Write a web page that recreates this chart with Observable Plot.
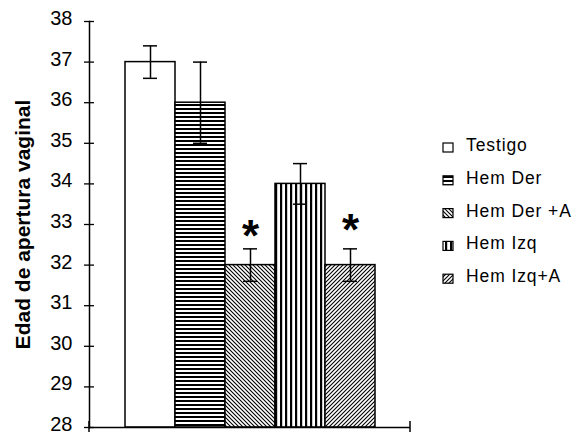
<!DOCTYPE html>
<html><head><meta charset="utf-8">
<script src="https://cdn.jsdelivr.net/npm/d3@7"></script>
<script src="https://cdn.jsdelivr.net/npm/@observablehq/plot@0.6"></script>
<style>
body{margin:0;background:#fff;}
#chart{position:relative;width:579px;height:432px;}
#chart svg{font-family:"Liberation Sans",Arial,sans-serif;}
g[aria-label="y-axis label"] text{font-weight:bold;}
</style></head><body><div id="chart"></div>
<script>
const groups = ["Testigo", "Hem Der", "Hem Der +A", "Hem Izq", "Hem Izq+A"];
const means = [37, 36, 32, 34, 32];
const errors = [0.4, 1.0, 0.4, 0.5, 0.4];
const signif = ["", "", "*", "", "*"];
const signifLevel = [null, null, 32.93, null, 33.1];
const yTicks = [28, 29, 30, 31, 32, 33, 34, 35, 36, 37, 38];
const yDomain = [28, 38];
const patternIds = ["pat-blank", "pat-h", "pat-bd", "pat-v", "pat-fd"];
const yLabel = "Edad de apertura vaginal";

const data = groups.map((g, i) => ({
  group: g, mean: means[i], lo: means[i] - errors[i], hi: means[i] + errors[i],
  mark: signif[i], markY: signifLevel[i], fill: `url(#${patternIds[i]})`
}));

const endTicks = (index, scales, values, dim) => {
  const g = d3.create("svg:g");
  const y0 = dim.height - dim.marginBottom;
  [dim.marginLeft, dim.width - dim.marginRight].forEach(x => {
    g.append("line").attr("x1", x).attr("x2", x).attr("y1", y0 - 6).attr("y2", y0 + 6)
      .attr("stroke", "#000").attr("stroke-width", 1.5);
  });
  return g.node();
};

const plot = Plot.plot({
  width: 579, height: 432,
  marginLeft: 89, marginRight: 169, marginTop: 21, marginBottom: 5,
  style: {fontFamily: "'Liberation Sans', Arial, sans-serif", fontSize: "20px", color: "#000", background: "transparent"},
  x: {domain: groups, paddingInner: 0, paddingOuter: 0.7, axis: null},
  y: {domain: yDomain},
  color: {type: "identity"},
  marks: [
    Plot.barY(data, {x: "group", y1: yDomain[0], y2: "mean", fill: "fill", stroke: "#000", strokeWidth: 1.5}),
    Plot.ruleX(data, {x: "group", y1: "lo", y2: "hi", stroke: "#000", strokeWidth: 1.5}),
    Plot.tickY(data, {x: "group", y: "hi", insetLeft: 18, insetRight: 18, stroke: "#000", strokeWidth: 1.5}),
    Plot.tickY(data, {x: "group", y: "lo", insetLeft: 18, insetRight: 18, stroke: "#000", strokeWidth: 1.5}),
    Plot.text(data.filter(d => d.mark), {x: "group", y: "markY", text: "mark", dy: 10, fontSize: 44, fontWeight: "bold", fill: "#000"}),
    Plot.ruleY([yDomain[0]], {stroke: "#000", strokeWidth: 1.5}),
    Plot.frame({anchor: "left", stroke: "#000", strokeWidth: 1.5}),
    Plot.axisY(yTicks, {tickSize: 10, dx: 5, tickFormat: () => "", label: null, strokeWidth: 1.3}),
    Plot.axisY(yTicks, {tickSize: 0, tickPadding: 17, dy: -3, fontSize: 20, label: yLabel, labelAnchor: "center", labelOffset: 74, labelArrow: false}),
    endTicks
  ]
});

const svg = d3.select(plot);
svg.selectAll('g[aria-label="y-axis label"] text').attr("font-size", 21).attr("font-weight", "bold");
const defs = svg.insert("defs", ":first-child");
defs.append("pattern").attr("id", "pat-blank").attr("patternUnits", "userSpaceOnUse").attr("width", 4).attr("height", 4)
  .append("rect").attr("width", 4).attr("height", 4).attr("fill", "#fff");
{
  const p = defs.append("pattern").attr("id", "pat-h").attr("patternUnits", "userSpaceOnUse").attr("width", 8).attr("height", 4);
  p.append("rect").attr("width", 8).attr("height", 4).attr("fill", "#fff");
  p.append("rect").attr("width", 8).attr("height", 2).attr("fill", "#000");
}
{
  const p = defs.append("pattern").attr("id", "pat-bd").attr("patternUnits", "userSpaceOnUse").attr("width", 4).attr("height", 4);
  p.append("rect").attr("width", 4).attr("height", 4).attr("fill", "#fff");
  p.append("path").attr("d", "M-1,-1L5,5M-1,3L1,5M3,-1L5,1").attr("stroke", "#000").attr("stroke-width", 1.1);
}
{
  const p = defs.append("pattern").attr("id", "pat-v").attr("patternUnits", "userSpaceOnUse").attr("width", 5).attr("height", 8);
  p.append("rect").attr("width", 5).attr("height", 8).attr("fill", "#fff");
  p.append("rect").attr("width", 2.2).attr("height", 8).attr("fill", "#000");
}
{
  const p = defs.append("pattern").attr("id", "pat-fd").attr("patternUnits", "userSpaceOnUse").attr("width", 4).attr("height", 4);
  p.append("rect").attr("width", 4).attr("height", 4).attr("fill", "#fff");
  p.append("path").attr("d", "M-1,5L5,-1M-1,1L1,-1M3,5L5,3").attr("stroke", "#000").attr("stroke-width", 1.1);
}

const legend = svg.append("g").attr("aria-label", "legend");
groups.forEach((g, i) => {
  const y = 143 + i * 32.8;
  legend.append("rect").attr("x", 443).attr("y", y).attr("width", 10).attr("height", 9)
    .attr("fill", `url(#${patternIds[i]})`).attr("stroke", "#000").attr("stroke-width", 1.2);
  legend.append("text").attr("x", 466).attr("y", y + 8).attr("text-anchor", "start")
    .attr("font-size", 17.5).attr("letter-spacing", 0.9).attr("fill", "#000").text(g);
});

document.getElementById("chart").appendChild(plot);
</script></body></html>
